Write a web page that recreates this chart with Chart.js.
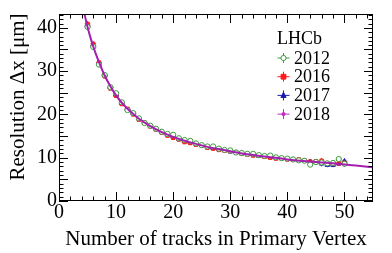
<!DOCTYPE html>
<html>
<head>
<meta charset="utf-8">
<script src="https://cdn.jsdelivr.net/npm/chart.js@4/dist/chart.umd.min.js"></script>
<style>
  html, body { margin: 0; padding: 0; background: #fff; }
</style>
</head>
<body>
<canvas id="resChart" width="392" height="253"></canvas>
<script>
// number of tracks in the PV (bin centres)
const nTracks = [5, 6, 7, 8, 9, 10, 11, 12, 13, 14, 15, 16, 17, 18, 19, 20, 21, 22, 23, 24, 25, 26, 27,
    28, 29, 30, 31, 32, 33, 34, 35, 36, 37, 38, 39, 40, 41, 42, 43, 44, 45, 46, 47, 48, 49, 50];

const res2012 = [40.2, 35.6, 31.5, 29.1, 26.3, 24.9, 22.8, 21.0, 20.3, 19.1, 18.0, 17.4, 16.7, 16.0, 15.5, 15.3,
    14.5, 14.1, 13.9, 13.3, 12.9, 12.6, 12.6, 12.1, 11.8, 11.7, 11.2, 11.1, 10.9, 10.9, 10.6, 10.4, 10.5, 10.1,
    9.9, 9.8, 9.6, 9.4, 9.3, 8.4, 9.0, 8.9, 8.7, 8.8, 9.7, 8.6];
const res2016 = [40.9, 36.3, 32.0, 28.8, 26.0, 24.3, 22.4, 21.3, 20.0, 18.8, 18.1, 17.2, 16.5, 15.8, 15.1, 14.6,
    14.2, 13.6, 13.4, 13.0, 12.9, 12.3, 12.1, 11.8, 11.6, 11.5, 11.3, 10.9, 10.7, 10.5, 10.5, 10.2, 10.0, 9.8,
    9.9, 9.6, 9.5, 9.6, 9.3, 9.1, 9.2, 9.3, 8.7, 8.6, 8.7, 8.8];
const res2017 = [40.5, 35.9, 31.7, 29.0, 26.2, 24.5, 22.6, 21.1, 20.2, 19.0, 18.0, 17.3, 16.6, 15.9, 15.3, 14.9,
    14.3, 13.9, 13.5, 13.2, 12.8, 12.5, 12.2, 12.0, 11.7, 11.4, 11.2, 11.0, 10.8, 10.7, 10.4, 10.3, 10.1, 10.0,
    9.8, 9.7, 9.6, 9.4, 9.3, 9.0, 8.9, 8.6, 8.3, 8.3, 8.6, 9.2];
const res2018 = [40.3, 35.8, 31.9, 29.0, 26.3, 24.4, 22.7, 21.2, 20.1, 19.0, 18.1, 17.3, 16.5, 15.9, 15.3, 14.8,
    14.3, 13.9, 13.5, 13.2, 12.8, 12.5, 12.2, 12.0, 11.7, 11.5, 11.2, 11.0, 10.8, 10.7, 10.6, 10.4, 10.2, 10.0,
    9.8, 9.7, 9.5, 9.4, 9.3, 9.2, 9.0, 8.9, 8.8, 8.7, 8.6, 8.5];

// y uncertainty per bin (same for every year)
const resErr = [0.7, 0.6, 0.5, 0.5, 0.4, 0.4, 0.4, 0.3, 0.3, 0.3, 0.3, 0.3, 0.3, 0.3, 0.3, 0.3,
    0.3, 0.3, 0.3, 0.3, 0.3, 0.3, 0.3, 0.3, 0.3, 0.3, 0.3, 0.3, 0.3, 0.3, 0.3, 0.3, 0.3, 0.4,
    0.4, 0.4, 0.4, 0.4, 0.5, 0.5, 0.5, 0.6, 0.5, 0.5, 0.5, 0.6];

// fitted curve
const fitX = [4.2, 4.5, 5, 5.5, 6, 6.5, 7, 8, 9, 10, 11, 12, 13, 14, 16, 18, 20, 22, 24, 26, 28, 30, 33, 36, 40, 44, 48, 52, 55];
const fitY = [44.8, 43.0, 40.2, 37.8, 35.7, 33.8, 32.1, 29.0, 26.5, 24.4, 22.7, 21.3, 20.1, 19.0, 17.3, 15.9, 14.8,
    13.9, 13.2, 12.5, 12.0, 11.5, 10.8, 10.3, 9.6, 9.1, 8.7, 8.2, 7.8];

const xTicks = [0, 10, 20, 30, 40, 50];
const yTicks = [0, 5, 10, 15, 20, 25, 30, 35, 40];

const serif = '"Liberation Serif", "DejaVu Serif", serif';

const toPoints = (vals) => vals.map((v, i) => ({ x: nTracks[i], y: v, err: resErr[i] }));

const years = [
    { label: '2012', vals: res2012, color: '#3d9a3d', style: 'circle', radius: 2.6, fill: '#ffffff' },
    { label: '2016', vals: res2016, color: '#ff1a1a', style: 'rect', radius: 2.4, fill: '#ff1a1a' },
    { label: '2017', vals: res2017, color: '#1c1cb0', style: 'triangle', radius: 2.6, fill: '#1c1cb0' },
    { label: '2018', vals: res2018, color: '#c22cc2', style: 'circle', radius: 1.6, fill: '#c22cc2' }
];

const errorBars = {
    id: 'errorBars',
    beforeDatasetsDraw(chart) {
        const { ctx, scales: { x, y } } = chart;
        ctx.save();
        ctx.beginPath();
        ctx.rect(chart.chartArea.left, chart.chartArea.top, chart.chartArea.width, chart.chartArea.height);
        ctx.clip();
        ctx.lineWidth = 1;
        chart.data.datasets.forEach((ds) => {
            if (!ds.errBars) return;
            ctx.strokeStyle = ds.borderColor;
            ds.data.forEach((p) => {
                const px = x.getPixelForValue(p.x);
                const py = y.getPixelForValue(p.y);
                ctx.beginPath();
                ctx.moveTo(x.getPixelForValue(p.x - 0.5), py);
                ctx.lineTo(x.getPixelForValue(p.x + 0.5), py);
                ctx.moveTo(px, y.getPixelForValue(p.y - p.err));
                ctx.lineTo(px, y.getPixelForValue(p.y + p.err));
                ctx.stroke();
            });
        });
        ctx.restore();
    }
};

const drawMarker = (ctx, yr, cx, cy) => {
    ctx.fillStyle = yr.fill;
    ctx.strokeStyle = yr.color;
    ctx.lineWidth = 1;
    ctx.beginPath();
    if (yr.style === 'rect') {
        ctx.rect(cx - yr.radius, cy - yr.radius, yr.radius * 2, yr.radius * 2);
    } else if (yr.style === 'triangle') {
        ctx.moveTo(cx, cy - yr.radius * 1.2);
        ctx.lineTo(cx + yr.radius, cy + yr.radius * 0.8);
        ctx.lineTo(cx - yr.radius, cy + yr.radius * 0.8);
        ctx.closePath();
    } else {
        ctx.arc(cx, cy, yr.radius, 0, Math.PI * 2);
    }
    ctx.fill();
    ctx.stroke();
};

const rootFrame = {
    id: 'rootFrame',
    afterDraw(chart) {
        const { ctx, chartArea: a, scales: { x, y } } = chart;
        ctx.save();
        ctx.strokeStyle = '#000';
        ctx.lineWidth = 1;
        ctx.strokeRect(a.left + 0.5, a.top + 0.5, a.width - 1, a.height - 1);

        // inward ticks on all four sides
        ctx.beginPath();
        for (let v = 0; v <= 55; v += 2) {
            const px = Math.round(x.getPixelForValue(v)) + 0.5;
            const len = v % 10 === 0 ? 9 : 4.5;
            ctx.moveTo(px, a.bottom); ctx.lineTo(px, a.bottom - len);
            ctx.moveTo(px, a.top); ctx.lineTo(px, a.top + len);
        }
        for (let v = 0; v <= 43; v += 1) {
            const py = Math.round(y.getPixelForValue(v)) + 0.5;
            const len = v % 5 === 0 ? 9 : 4.5;
            ctx.moveTo(a.left, py); ctx.lineTo(a.left + len, py);
            ctx.moveTo(a.right, py); ctx.lineTo(a.right - len, py);
        }
        ctx.stroke();

        // axis titles
        ctx.fillStyle = '#000';
        ctx.font = '21px ' + serif;
        ctx.textAlign = 'center';
        ctx.textBaseline = 'middle';
        ctx.fillText('Number of tracks in Primary Vertex', 216, 239);
        ctx.save();
        ctx.translate(18, 97);
        ctx.rotate(-Math.PI / 2);
        ctx.fillText('Resolution \u0394x [\u03bcm]', 0, 0);
        ctx.restore();

        // legend
        ctx.font = '18px ' + serif;
        ctx.textAlign = 'left';
        ctx.fillText('LHCb', 277, 39);
        years.forEach((yr, i) => {
            const cy = 58 + i * 18.7;
            const cx = 283.5;
            ctx.strokeStyle = yr.color;
            ctx.beginPath();
            ctx.moveTo(cx - 6, cy); ctx.lineTo(cx + 6, cy);
            ctx.moveTo(cx, cy - 5); ctx.lineTo(cx, cy + 5);
            ctx.stroke();
            drawMarker(ctx, yr, cx, cy);
            ctx.fillStyle = '#000';
            ctx.fillText(yr.label, 294, cy + 1);
        });
        ctx.restore();
    }
};

const datasets = years.map((yr) => ({
    label: yr.label,
    data: toPoints(yr.vals),
    borderColor: yr.color,
    backgroundColor: yr.fill,
    pointStyle: yr.style,
    pointRadius: yr.radius,
    pointBorderWidth: 1,
    errBars: true,
    order: 2
}));

datasets.push({
    label: 'fit',
    data: fitX.map((v, i) => ({ x: v, y: fitY[i] })),
    showLine: true,
    borderColor: '#a41fb0',
    borderWidth: 2,
    pointRadius: 0,
    cubicInterpolationMode: 'monotone',
    order: 1
});

new Chart(document.getElementById('resChart').getContext('2d'), {
    type: 'scatter',
    data: { datasets },
    options: {
        responsive: false,
        animation: false,
        layout: { padding: { left: 0, top: 12, right: 19, bottom: 0 } },
        plugins: { legend: { display: false }, tooltip: { enabled: false } },
        scales: {
            x: {
                min: 0, max: 55,
                grid: { display: false, drawTicks: false },
                border: { display: false },
                afterBuildTicks: (s) => { s.ticks = xTicks.map((v) => ({ value: v })); },
                afterFit: (s) => { s.height = 52; },
                ticks: { color: '#000', padding: 0, maxRotation: 0, font: { family: serif, size: 20 } }
            },
            y: {
                min: 0, max: 43.2,
                grid: { display: false, drawTicks: false },
                border: { display: false },
                afterBuildTicks: (s) => { s.ticks = yTicks.map((v) => ({ value: v })); },
                afterFit: (s) => { s.width = 59; },
                ticks: { color: '#000', padding: 2, font: { family: serif, size: 20 } }
            }
        }
    },
    plugins: [errorBars, rootFrame]
});
</script>
</body>
</html>
